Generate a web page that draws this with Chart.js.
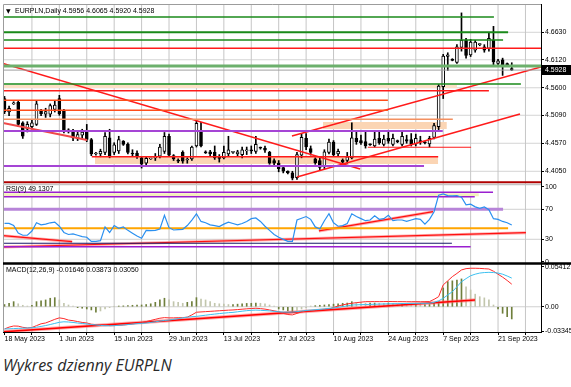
<!DOCTYPE html>
<html><head><meta charset="utf-8">
<script src="https://cdn.jsdelivr.net/npm/chart.js@4.4.0/dist/chart.umd.min.js"></script>
<style>
html,body{margin:0;padding:0;background:#fff;width:571px;height:387px;overflow:hidden}
#wrap{position:absolute;left:0;top:0;width:571px;height:350px}
#cap{position:absolute;left:3px;top:357px;font-family:'Open Sans',sans-serif;font-style:italic;font-size:16px;line-height:16px;color:#2a2a2a;white-space:nowrap}
</style></head><body>
<div id="wrap"><canvas id="c" width="571" height="350"></canvas></div>
<div id="cap">Wykres dzienny EURPLN</div>
<script>
const symbolTitle = 'EURPLN,Daily';
const dateLabels = ['18 May 2023','1 Jun 2023','15 Jun 2023','29 Jun 2023','13 Jul 2023','27 Jul 2023','10 Aug 2023','24 Aug 2023','7 Sep 2023','21 Sep 2023'];
const dateLabelBars = [0,12,24,36,48,60,72,84,96,108];
const gridBars = [6,12,18,24,30,36,42,48,54,60,66,72,78,84,90,96,102,108,114];
const tickBars = [0,6,12,18,24,30,36,42,48,54,60,66,72,78,84,90,96,102,108,114];
const priceTicks = [4.4050,4.4570,4.5090,4.5600,4.6120,4.6630];
const rsiTicks = [0,30,70,100];
const rsiGrid = [30,70];
const macdTicks = [-0.03345,0,0.05412];
const macdGrid = [0];

const opens = [4.540,4.515,4.530,4.533,4.495,4.483,4.488,4.492,4.517,4.511,
4.511,4.520,4.540,4.517,4.482,4.480,4.466,4.472,4.478,4.464,
4.437,4.437,4.440,4.467,4.440,4.443,4.461,4.455,4.439,4.439,
4.430,4.420,4.428,4.430,4.433,4.442,4.470,4.434,4.426,4.440,
4.426,4.428,4.452,4.478,4.441,4.441,4.440,4.431,4.430,4.437,
4.440,4.437,4.436,4.443,4.444,4.442,4.449,4.448,4.440,4.425,
4.420,4.412,4.405,4.402,4.393,4.435,4.466,4.447,4.428,4.425,
4.414,4.440,4.459,4.437,4.426,4.425,4.430,4.466,4.462,4.460,
4.455,4.452,4.466,4.455,4.466,4.455,4.462,4.455,4.464,4.464,
4.456,4.462,4.459,4.456,4.468,4.488,4.562,4.618,4.613,4.607,
4.635,4.648,4.621,4.630,4.640,4.636,4.633,4.648,4.605,4.612,
4.604,4.5956];
const highs = [4.544,4.526,4.534,4.536,4.497,4.497,4.500,4.535,4.520,4.522,
4.530,4.535,4.546,4.520,4.484,4.483,4.478,4.483,4.492,4.466,
4.440,4.446,4.477,4.483,4.458,4.470,4.462,4.458,4.445,4.443,
4.432,4.431,4.429,4.438,4.455,4.477,4.474,4.436,4.428,4.443,
4.430,4.452,4.498,4.496,4.443,4.444,4.452,4.436,4.452,4.470,
4.442,4.444,4.450,4.450,4.452,4.470,4.450,4.452,4.442,4.428,
4.425,4.414,4.406,4.405,4.440,4.475,4.475,4.452,4.430,4.430,
4.445,4.465,4.462,4.446,4.428,4.440,4.495,4.478,4.472,4.480,
4.456,4.480,4.478,4.472,4.478,4.474,4.463,4.478,4.472,4.475,
4.474,4.470,4.460,4.470,4.494,4.566,4.622,4.625,4.614,4.640,
4.699,4.652,4.650,4.648,4.642,4.640,4.661,4.674,4.613,4.615,
4.606,4.6065];
const lows = [4.512,4.508,4.529,4.488,4.466,4.478,4.483,4.490,4.508,4.505,
4.506,4.515,4.509,4.476,4.476,4.462,4.462,4.465,4.460,4.434,
4.435,4.432,4.436,4.430,4.436,4.438,4.453,4.437,4.434,4.429,
4.411,4.417,4.427,4.425,4.430,4.438,4.432,4.425,4.421,4.420,
4.420,4.425,4.450,4.450,4.438,4.433,4.427,4.422,4.428,4.434,
4.438,4.433,4.430,4.436,4.438,4.438,4.446,4.440,4.418,4.415,
4.404,4.402,4.400,4.389,4.390,4.430,4.445,4.435,4.418,4.408,
4.410,4.437,4.433,4.434,4.420,4.420,4.428,4.455,4.455,4.448,
4.453,4.450,4.455,4.452,4.457,4.452,4.458,4.452,4.457,4.452,
4.452,4.455,4.456,4.450,4.465,4.482,4.540,4.592,4.610,4.605,
4.628,4.615,4.618,4.626,4.638,4.626,4.628,4.602,4.600,4.583,
4.602,4.5920];
const closes = [4.515,4.522,4.532,4.492,4.470,4.492,4.495,4.530,4.512,4.516,
4.527,4.528,4.512,4.480,4.478,4.467,4.473,4.478,4.464,4.437,
4.438,4.442,4.470,4.433,4.454,4.464,4.455,4.440,4.437,4.432,
4.418,4.429,4.428,4.431,4.450,4.470,4.435,4.428,4.424,4.424,
4.427,4.450,4.494,4.452,4.439,4.437,4.430,4.429,4.440,4.445,
4.441,4.441,4.445,4.444,4.443,4.455,4.448,4.444,4.420,4.420,
4.410,4.405,4.402,4.392,4.436,4.468,4.450,4.440,4.421,4.412,
4.441,4.459,4.436,4.442,4.422,4.432,4.467,4.460,4.458,4.452,
4.454,4.465,4.458,4.465,4.461,4.466,4.460,4.470,4.461,4.455,
4.466,4.460,4.458,4.466,4.490,4.563,4.619,4.621,4.611,4.636,
4.648,4.620,4.645,4.645,4.641,4.630,4.652,4.608,4.610,4.602,
4.603,4.5928];

const rsiValues = [51.1,51.1,48.3,38.2,35.4,35.4,41.0,52.0,49.2,50.2,
52.0,52.9,47.4,39.1,36.4,37.3,35.4,33.6,32.7,27.2,
27.2,28.1,46.5,39.1,48.3,44.6,46.5,41.9,38.2,34.5,
31.3,41.9,41.5,41.9,43.7,62.1,45.5,42.4,42.8,43.3,
48.3,55.7,64.0,53.8,52.0,49.2,48.3,46.9,50.2,52.9,
51.1,49.2,51.1,53.8,57.5,58.4,53.8,47.4,41.9,36.4,
32.7,29.9,27.2,27.2,55.7,58.0,60.3,56.6,46.5,43.7,
54.8,64.0,52.0,47.4,48.3,51.1,64.0,60.3,57.5,54.8,
55.7,61.2,56.6,57.5,62.1,54.8,55.7,55.7,53.8,55.7,
57.5,56.6,50.2,56.6,66.7,88.8,90.5,88.3,87.9,88.3,
86.0,75.9,76.8,73.2,71.3,73.2,69.5,57.5,56.6,53.8,
52.0,49.1307];

const macdMain = [-0.0300,-0.0275,-0.0260,-0.0262,-0.0278,-0.0286,-0.0280,-0.0255,-0.0230,-0.0219,
-0.0195,-0.0170,-0.0150,-0.0160,-0.0180,-0.0188,-0.0200,-0.0212,-0.0219,-0.0235,
-0.0242,-0.0246,-0.0240,-0.0255,-0.0255,-0.0250,-0.0245,-0.0240,-0.0232,-0.0223,
-0.0215,-0.0200,-0.0185,-0.0170,-0.0155,-0.0147,-0.0150,-0.0150,-0.0148,-0.0147,
-0.0140,-0.0110,-0.0074,-0.0070,-0.0066,-0.0062,-0.0058,-0.0054,-0.0050,-0.0046,
-0.0043,-0.0038,-0.0033,-0.0028,-0.0024,-0.0020,-0.0025,-0.0032,-0.0043,-0.0055,
-0.0066,-0.0090,-0.0105,-0.0110,-0.0090,-0.0070,-0.0057,-0.0052,-0.0048,-0.0042,
-0.0036,-0.0030,-0.0010,0.0010,0.0025,0.0038,0.0047,0.0055,0.0062,0.0069,
0.0069,0.0070,0.0069,0.0070,0.0071,0.0070,0.0069,0.0069,0.0068,0.0068,
0.0069,0.0068,0.0069,0.0070,0.0100,0.0136,0.0295,0.0350,0.0407,0.0450,
0.0497,0.0515,0.0520,0.0520,0.0518,0.0514,0.0510,0.0480,0.0440,0.0400,
0.0355,0.03050];
const macdSignal = [-0.0300,-0.0298,-0.0295,-0.0292,-0.0290,-0.0287,-0.0284,-0.0276,-0.0266,-0.0254,
-0.0240,-0.0225,-0.0210,-0.0203,-0.0206,-0.0212,-0.0220,-0.0226,-0.0232,-0.0240,
-0.0246,-0.0252,-0.0256,-0.0257,-0.0255,-0.0251,-0.0246,-0.0240,-0.0234,-0.0228,
-0.0224,-0.0220,-0.0212,-0.0203,-0.0194,-0.0185,-0.0180,-0.0170,-0.0160,-0.0150,
-0.0141,-0.0134,-0.0130,-0.0122,-0.0114,-0.0106,-0.0099,-0.0092,-0.0086,-0.0080,
-0.0076,-0.0068,-0.0060,-0.0053,-0.0048,-0.0045,-0.0048,-0.0052,-0.0056,-0.0062,
-0.0068,-0.0072,-0.0073,-0.0072,-0.0066,-0.0058,-0.0050,-0.0045,-0.0040,-0.0035,
-0.0029,-0.0022,-0.0016,-0.0008,0.0002,0.0012,0.0023,0.0026,0.0028,0.0030,
0.0032,0.0034,0.0036,0.0038,0.0040,0.0041,0.0042,0.0043,0.0044,0.0045,
0.0046,0.0046,0.0046,0.0047,0.0060,0.0080,0.0114,0.0160,0.0203,0.0270,
0.0338,0.0380,0.0419,0.0440,0.0455,0.0462,0.0465,0.0462,0.0455,0.0440,
0.0415,0.03873];
const macdHist = [0.0030,0.0047,0.0069,0.0040,0.0020,0.0010,0.0020,0.0069,0.0080,0.0092,
0.0115,0.0123,0.0092,0.0047,0.0024,0.0010,-0.0012,-0.0020,-0.0030,-0.0043,
-0.0074,-0.0057,-0.0030,-0.0012,0.0005,0.0010,0.0012,0.0015,0.0020,0.0024,
0.0024,0.0030,0.0040,0.0060,0.0092,0.0115,0.0092,0.0069,0.0060,0.0047,
0.0060,0.0069,0.0123,0.0105,0.0092,0.0069,0.0047,0.0040,0.0035,0.0030,
0.0030,0.0035,0.0040,0.0045,0.0047,0.0050,0.0047,0.0040,0.0024,0.0010,
-0.0030,-0.0043,-0.0057,-0.0074,-0.0050,-0.0030,-0.0012,0.0010,0.0015,0.0020,
0.0024,0.0030,0.0035,0.0040,0.0047,0.0050,0.0069,0.0060,0.0055,0.0050,
0.0050,0.0050,0.0047,0.0045,0.0050,0.0047,0.0040,0.0045,0.0040,0.0035,
0.0035,0.0030,0.0030,0.0035,0.0055,0.0070,0.0254,0.0340,0.0350,0.0360,
0.0376,0.0270,0.0227,0.0170,0.0136,0.0120,0.0092,0.0024,-0.0030,-0.0088,
-0.0134,-0.01646];

// chart objects (bar-index units on x, price / indicator units on y)
const X_MIN = -0.33, X_MAX = 117.4;
const MAIN_MIN = 4.3814, MAIN_MAX = 4.7155, RSI_MIN = -1.6, RSI_MAX = 103.7, MACD_MIN = -0.0341, MACD_MAX = 0.0591;
const levelPrice = [4.6914,4.6630,4.6487,4.6333,4.6005,4.5928,4.5670,4.5546,4.5369,4.5184,4.5017,4.4798,4.4496,4.4321,4.4149,4.3846];
const levelFrom  = [X_MIN,X_MIN,X_MIN,X_MIN,X_MIN,X_MIN,X_MIN,X_MIN,X_MIN,X_MIN,X_MIN,X_MIN,79.5,19.1,X_MIN,X_MIN];
const levelTo    = [107.1,110.2,109.1,X_MAX,X_MAX,X_MAX,113,106,83.9,83.9,98.1,95.9,102.1,94.9,91.8,X_MAX];
const trendFrom = [X_MIN,X_MIN,62.9,64];
const trendP0   = [4.6051,4.4947,4.4705,4.3944];
const trendTo   = [77.8,18.05,X_MAX,112.8];
const trendP1   = [4.4093,4.4631,4.5986,4.5112];
const bandTop    = [4.5652,4.4965,4.4316];
const bandBottom = [4.5596,4.4835,4.4186];
const bandFrom   = [X_MIN,69.7,19.8];
const bandTo     = [99,96.8,94.9];
const rsiLevel   = [92.7,86.8,70,44.7,24.7,20.1];
const rsiLevelTo = [106.9,102.9,109.1,110.2,97.9,102];
const rsiBandTop = 91.5, rsiBandBottom = 87.3, rsiBandTo = 103.8;
const rsiTrendFrom = [X_MIN,X_MIN,68.8];
const rsiTrendV0   = [19.7,34.8,41.1];
const rsiTrendTo   = [114.1,14.8,93.8];
const rsiTrendV1   = [38.8,26.8,66.8];
const macdTrendFrom = X_MIN, macdTrendV0 = -0.0338, macdTrendTo = 102.95, macdTrendV1 = 0.0091;

// styles
const levelColors = ['#1a8a1a','#1a8a1a','#1a8a1a','#ff1a1a','#6cb06c','#a0a0a0','#1a8a1a','#ff1a1a','#ff4d1a','#ff4d1a','#f39060','#a545d5','#ff1a1a','#ff1a1a','#a545d5','#b00000'];
const levelWidths = [1.5,2,1.5,1.5,3,1,1.5,1.5,1.5,1.5,1.5,2,1.2,1.5,2,2];
const trendColors = ['#ff1a1a','#f04848','#ff1a1a','#ff1a1a'];
const trendWidths = [1.5,2,1.5,1.5];
const bandColors = ['#fde0c6','#fbd5b4','#fbd5b4'];
const rsiLevelColors = ['#9a1fd0','#9a1fd0','#b784d8','#ffa500','#1a1a6a','#9a1fd0'];
const rsiLevelWidths = [1.5,1.5,3,2,1.2,1.5];

const ds = [];
const mk = (pts, axis, color, width, order, extra) => Object.assign({
  type:'line', data:pts, xAxisID:'x', yAxisID:axis, borderColor:color, borderWidth:width,
  pointRadius:0, pointHitRadius:0, fill:false, tension:0, order:order}, extra || {});

// grid lines as solid light-gray library lines (behind everything)
const panes = [['yMain',MAIN_MIN,MAIN_MAX],['yRSI',RSI_MIN,RSI_MAX],['yMACD',MACD_MIN,MACD_MAX]];
gridBars.forEach(b => panes.forEach(p => ds.push(mk([{x:b,y:p[1]},{x:b,y:p[2]}],p[0],'#c6c6c6',1,9))));
priceTicks.forEach(v => ds.push(mk([{x:X_MIN,y:v},{x:X_MAX,y:v}],'yMain','#d4d4d4',1,9)));
rsiGrid.forEach(v => ds.push(mk([{x:X_MIN,y:v},{x:X_MAX,y:v}],'yRSI','#d0d0d0',1,9)));
macdGrid.forEach(v => ds.push(mk([{x:X_MIN,y:v},{x:X_MAX,y:v}],'yMACD','#d0d0d0',1,9)));

// main panel
levelPrice.forEach((p,i) => ds.push(mk([{x:levelFrom[i],y:p},{x:levelTo[i],y:p}],'yMain',levelColors[i],levelWidths[i],0)));
trendP0.forEach((p,i) => ds.push(mk([{x:trendFrom[i],y:p},{x:trendTo[i],y:trendP1[i]}],'yMain',trendColors[i],trendWidths[i],0)));
bandTop.forEach((t,i) => ds.push(mk([{x:bandFrom[i],y:t},{x:bandTo[i],y:t}],'yMain','rgba(0,0,0,0)',0,5,{fill:{value:bandBottom[i]},backgroundColor:bandColors[i]})));
ds.push({type:'bar', xAxisID:'x', yAxisID:'yMain', order:1, grouped:false, barThickness:3, minBarLength:1,
  borderSkipped:false, borderWidth:1, borderColor:'#000',
  backgroundColor: opens.map((o,i) => closes[i] >= o ? '#ffffff' : '#000000'),
  data: opens.map((o,i) => ({x:i, y:[o, closes[i]]}))});
ds.push({type:'bar', xAxisID:'x', yAxisID:'yMain', order:2, grouped:false, barThickness:1,
  backgroundColor:'#000', data: highs.map((h,i) => ({x:i, y:[lows[i], h]}))});

// RSI panel
ds.push(mk([{x:X_MIN,y:rsiBandTop},{x:rsiBandTo,y:rsiBandTop}],'yRSI','rgba(0,0,0,0)',0,5,{fill:{value:rsiBandBottom},backgroundColor:'#f3efbb'}));
rsiLevel.forEach((v,i) => ds.push(mk([{x:X_MIN,y:v},{x:rsiLevelTo[i],y:v}],'yRSI',rsiLevelColors[i],rsiLevelWidths[i],1)));
rsiTrendV0.forEach((v,i) => {
  ds.push(mk([{x:rsiTrendFrom[i],y:v},{x:rsiTrendTo[i],y:rsiTrendV1[i]}],'yRSI','rgba(255,110,110,0.55)',3,2));
  ds.push(mk([{x:rsiTrendFrom[i],y:v},{x:rsiTrendTo[i],y:rsiTrendV1[i]}],'yRSI','#ff1010',1.2,1));
});
ds.push(mk(rsiValues.map((v,i)=>({x:i,y:v})),'yRSI','#2b90f0',1.2,0));

// MACD panel
ds.push({type:'bar', xAxisID:'x', yAxisID:'yMACD', order:3, grouped:false, barThickness:1,
  backgroundColor: macdHist.map((v,i) => (i>0 && Math.abs(v) < Math.abs(macdHist[i-1])) ? '#c2c6ad' : '#6f7f3c'),
  data: macdHist.map((v,i)=>({x:i,y:v}))});
ds.push(mk([{x:macdTrendFrom,y:macdTrendV0},{x:macdTrendTo,y:macdTrendV1}],'yMACD','rgba(255,110,110,0.55)',3.5,2));
ds.push(mk([{x:macdTrendFrom,y:macdTrendV0},{x:macdTrendTo,y:macdTrendV1}],'yMACD','#ff0000',1.6,1));
ds.push(mk(macdSignal.map((v,i)=>({x:i,y:v})),'yMACD','#3cc0f0',1,0));
ds.push(mk(macdMain.map((v,i)=>({x:i,y:v})),'yMACD','#ff2a2a',1,0));

Chart.defaults.font.family = '"Liberation Sans", Arial, sans-serif';
Chart.defaults.font.size = 7;
Chart.defaults.color = '#000';

const yCommon = (weight, sw, ticksArr, fmt) => ({
  type:'linear', position:'right', stack:'panes', stackWeight:sw, weight:weight, bounds:'data',
  afterBuildTicks: s => { s.ticks = ticksArr.map(v => ({value:v})); },
  afterFit: s => { s.width = 30; s.paddingTop = 0; s.paddingBottom = 0; },
  ticks: {callback: fmt, padding:1, autoSkip:false, color:'#000', font:{size:7}},
  grid: {drawOnChartArea:false, drawTicks:true, tickLength:3, tickColor:'#000', tickWidth:1},
  border: {display:true, color:'#000', width:1}
});

const decor = {
  id:'decor',
  afterDraw(chart) {
    const {ctx, chartArea:a, scales} = chart;
    const n = closes.length - 1;
    ctx.save();
    ctx.strokeStyle = '#9c9c9c'; ctx.lineWidth = 1;
    ctx.beginPath();
    ctx.moveTo(a.left + 0.5, a.bottom); ctx.lineTo(a.left + 0.5, a.top + 0.5); ctx.lineTo(a.right, a.top + 0.5);
    ctx.stroke();
    const s1 = scales.yMain.bottom, s2 = scales.yRSI.bottom;
    ctx.strokeStyle = '#c4c4c4'; ctx.lineWidth = 1.5;
    ctx.beginPath(); ctx.moveTo(a.left, s1 + 0.5); ctx.lineTo(a.right, s1 + 0.5); ctx.stroke();
    ctx.strokeStyle = '#000'; ctx.lineWidth = 2.5;
    ctx.beginPath(); ctx.moveTo(a.left, s2 + 0.5); ctx.lineTo(chart.width, s2 + 0.5); ctx.stroke();
    ctx.fillStyle = '#000'; ctx.textBaseline = 'middle'; ctx.textAlign = 'left';
    ctx.font = '6px "DejaVu Sans"';
    ctx.fillText('\u25BC', a.left + 3, a.top + 7);
    ctx.font = '7px "Liberation Sans"';
    ctx.fillText(symbolTitle + ' ' + opens[n].toFixed(4) + ' ' + highs[n].toFixed(4) + ' ' + lows[n].toFixed(4) + ' ' + closes[n].toFixed(4), a.left + 12, a.top + 7);
    ctx.fillText('RSI(9) ' + rsiValues[n].toFixed(4), a.left + 3, scales.yRSI.top + 5);
    ctx.fillText('MACD(12,26,9) ' + macdHist[n].toFixed(5) + ' ' + macdSignal[n].toFixed(5) + ' ' + macdMain[n].toFixed(5), a.left + 3, scales.yMACD.top + 7);
    const py = Math.round(scales.yMain.getPixelForValue(closes[n]));
    ctx.fillStyle = '#000'; ctx.fillRect(a.right + 1, py - 5, chart.width - a.right - 1, 10);
    ctx.fillStyle = '#fff'; ctx.fillText(closes[n].toFixed(4), a.right + 4, py);
    ctx.restore();
  }
};

new Chart(document.getElementById('c'), {
  type:'line',
  data:{datasets:ds},
  options:{
    responsive:false, maintainAspectRatio:false, animation:false, events:[],
    layout:{padding:{left:3, top:4, right:0, bottom:0}},
    plugins:{legend:{display:false}, tooltip:{enabled:false}},
    scales:{
      x:{type:'linear', position:'bottom', min:X_MIN, max:X_MAX, offset:false, bounds:'data',
        afterBuildTicks: s => { s.ticks = tickBars.map(v => ({value:v})); },
        afterFit: s => { s.height = 18; s.paddingLeft = 0; s.paddingRight = 0; },
        ticks:{autoSkip:false, maxRotation:0, minRotation:0, align:'start', padding:0, color:'#000', font:{size:7},
          callback: v => { const k = dateLabelBars.indexOf(v); return k >= 0 ? dateLabels[k] : ''; }},
        grid:{drawOnChartArea:false, offset:false, drawTicks:true, tickLength:3, tickColor:'#000'},
        border:{display:true, color:'#000', width:1}
      },
      yMain: Object.assign(yCommon(1, 180, priceTicks, v => v.toFixed(4)), {min:MAIN_MIN, max:MAIN_MAX}),
      yRSI: Object.assign(yCommon(2, 79, rsiTicks, v => String(v)), {min:RSI_MIN, max:RSI_MAX}),
      yMACD: Object.assign(yCommon(3, 69, macdTicks, v => v === 0 ? '0.00' : v.toFixed(5)), {min:MACD_MIN, max:MACD_MAX})
    }
  },
  plugins:[decor]
});
</script>
</body></html>
